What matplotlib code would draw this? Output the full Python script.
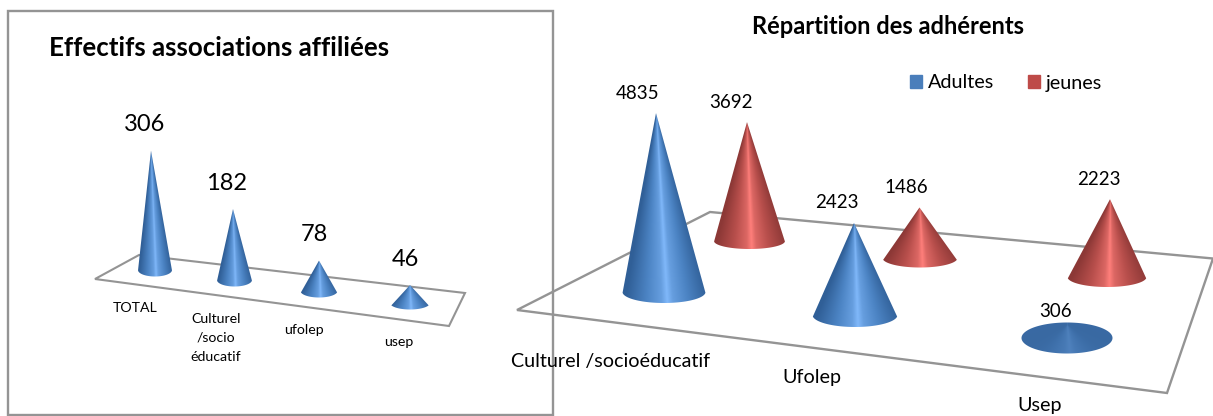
import numpy as np
import matplotlib
matplotlib.use('Agg')
import matplotlib.pyplot as plt
from matplotlib.patches import Polygon, Rectangle, Patch

plt.rcParams['font.family'] = ['Lato', 'DejaVu Sans']

# data
left_categories = ['TOTAL', 'Culturel\n/socio\néducatif', 'ufolep', 'usep']
left_values = [306, 182, 78, 46]
right_categories = ['Culturel /socioéducatif', 'Ufolep', 'Usep']
adultes = [4835, 2423, 306]
jeunes = [3692, 1486, 2223]

# colours: edge, mid, highlight
BLUE = ['#305f97', '#4c84c4', '#80b8fa']
RED = ['#8c3836', '#b84f4c', '#ff7f7b']
GREY = '#949494'

# layout in pixels (cx, base y, half width, half height, apex shift, px per unit)
left_layout = [(155, 270, 17, 6.5, -4, 0.39), (234.5, 280, 17.5, 6.5, -1.5, 0.39),
               (319, 291, 18.5, 6.5, 0, 0.39), (410, 303, 20, 6.5, 0, 0.39)]
adultes_layout = [(664, 292, 41.5, 11, -8, 0.037), (855, 315, 42.5, 12, -1, 0.038),
                  (1067, 338, 45.5, 15.5, 0, 0.042)]
jeunes_layout = [(749.5, 241, 35.5, 8, -2.5, 0.0322), (920, 258, 37.5, 9.5, -0.5, 0.034),
                 (1107, 277, 39.5, 10, 3, 0.035)]


def draw_cone(ax, value, layout, colors):
    cx, by, R, r, shift, scale = layout
    H = value * scale
    ax_x, ax_y = cx + shift, by - H

    # outline of the cone: apex + visible part of the base ellipse
    if H > r:
        t0 = np.arccos(r / H)
        th = np.linspace(-t0, t0, 80)
        pts = [(cx + R * np.sin(a), by + r * np.cos(a)) for a in th]
        outline = [(ax_x, ax_y)] + pts
    else:
        th = np.linspace(0, 2 * np.pi, 160)
        outline = [(cx + R * np.sin(a), by + r * np.cos(a)) for a in th]

    # shading from the angle around the cone axis
    x0, x1 = cx - R - 2, cx + R + 2
    y0, y1 = min(ax_y, by - r) - 2, by + r + 2
    xx, yy = np.meshgrid(np.linspace(x0, x1, int((x1 - x0) * 3)),
                         np.linspace(y0, y1, int((y1 - y0) * 3)))
    v = np.maximum(yy - ax_y, 1e-3)
    u = xx - (ax_x + (cx - ax_x) * v / max(H, 1))
    a = u**2 / R**2 + v**2 / r**2
    b = -2 * v * H / r**2
    c = H**2 / r**2 - 1
    disc = np.maximum(b**2 - 4 * a * c, 0)
    g = (-b + np.sqrt(disc)) / (2 * a)
    sin_t = np.clip(u * g / R, -1, 1)
    cos_t = np.clip((v * g - H) / r, -1, 1)
    w = np.abs(sin_t - 0.06)
    rgb = np.zeros(xx.shape + (3,))
    for i in range(3):
        stops = [matplotlib.colors.to_rgb(col)[i] for col in colors]
        rgb[..., i] = np.interp(w, [0, 0.14, 0.5, 1.0], [stops[2], stops[2] * 0.5 + stops[1] * 0.5, stops[1], stops[0]])
    if H <= r:
        # nearly flat cone seen from above stays dark
        dark = np.array(matplotlib.colors.to_rgb('#3a6aa3'))
        light = np.maximum(cos_t, 0)[..., None] ** 4
        rgb = dark * (1 - light * 0.3) + rgb * light * 0.3

    im = ax.imshow(rgb, extent=(x0, x1, y1, y0), origin='upper', aspect='auto',
                   interpolation='bilinear', zorder=3)
    im.set_clip_path(Polygon(outline, closed=True, transform=ax.transData))
    return ax_x, ax_y


fig = plt.figure(figsize=(12.13, 4.16), dpi=100)
ax = fig.add_axes([0, 0, 1, 1])

# left chart
ax.add_patch(Polygon([(95, 279), (139, 255), (465, 293), (449, 326)], closed=True,
                     fill=False, ec=GREY, lw=1.5, zorder=1))
ax.text(49, 48, 'Effectifs associations affiliées', fontsize=18.6, fontweight='bold',
        va='center', ha='left', color='black', zorder=5)
label_dx = [-6, -6, -5, -5]
for val, lay, dx in zip(left_values, left_layout, label_dx):
    tip_x, tip_y = draw_cone(ax, val, lay, BLUE)
    ax.text(tip_x + dx, tip_y - 26, str(val), fontsize=17, ha='center', va='center', zorder=5)

left_cat_pos = [(135, 308), (216, 338), (304, 330), (399, 342)]
for name, (x, y) in zip(left_categories, left_cat_pos):
    ax.text(x, y, name, fontsize=10.2, ha='center', va='center', linespacing=1.7, zorder=5)

# right chart
ax.add_patch(Polygon([(517, 310), (710, 212), (1213, 258.5), (1167, 393)], closed=True,
                     fill=False, ec=GREY, lw=1.7, zorder=1))
ax.text(888, 27, 'Répartition des adhérents', fontsize=17, fontweight='bold',
        va='center', ha='center', zorder=5)

adultes_dx = [-18, -17, -11]
jeunes_dx = [-16, -13.5, -11]
for i in range(3):
    tip_x, tip_y = draw_cone(ax, jeunes[i], jeunes_layout[i], RED)
    ax.text(tip_x + jeunes_dx[i], tip_y - 20, str(jeunes[i]), fontsize=13.5, ha='center', va='center', zorder=5)
for i in range(3):
    tip_x, tip_y = draw_cone(ax, adultes[i], adultes_layout[i], BLUE)
    off = 14 if adultes[i] < 1000 else 20
    ax.text(tip_x + adultes_dx[i], tip_y - off, str(adultes[i]), fontsize=13.5, ha='center', va='center', zorder=5)

right_cat_pos = [(610.5, 361), (812, 378), (1040, 406)]
for name, (x, y) in zip(right_categories, right_cat_pos):
    ax.text(x, y, name, fontsize=14.2, ha='center', va='center', zorder=5)

leg = ax.legend(handles=[Patch(color='#4a7ebb', label='Adultes'), Patch(color='#be4b48', label='jeunes')],
                ncol=2, frameon=False, fontsize=14.2, loc='center left',
                bbox_to_anchor=(910, 83), bbox_transform=ax.transData,
                handlelength=0.62, handleheight=0.62, handletextpad=0.3, columnspacing=1.7,
                borderpad=0, borderaxespad=0)

# frame of the left chart goes on top of the right floor
ax.add_patch(Rectangle((8, 11), 545, 404, fill=False, ec=GREY, lw=1.7, zorder=2))

ax.set_xlim(0, 1213)
ax.set_ylim(416, 0)
ax.axis('off')
fig.savefig('out.png', dpi=100)
